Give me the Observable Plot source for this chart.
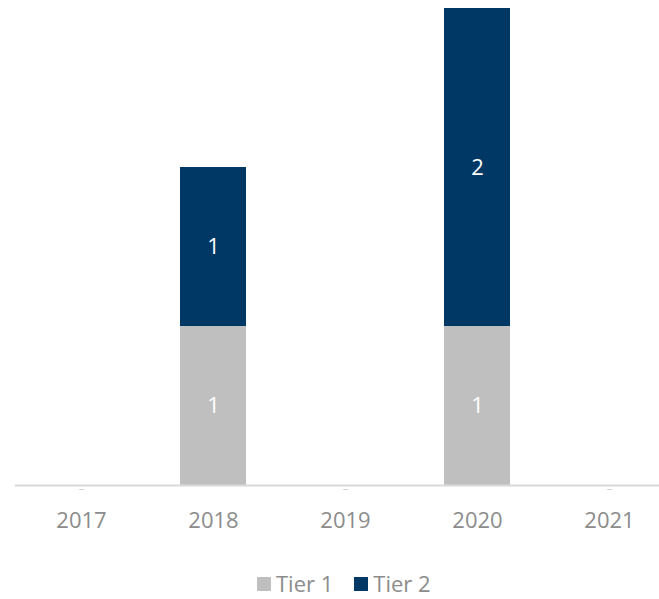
<!DOCTYPE html>
<html>
<head>
<meta charset="utf-8">
<script src="https://cdn.jsdelivr.net/npm/d3@7"></script>
<script src="https://cdn.jsdelivr.net/npm/@observablehq/plot@0.6"></script>
<style>
  html, body { margin: 0; padding: 0; background: #fff; }
  body { width: 659px; height: 599px; overflow: hidden; font-family: "Open Sans", "Noto Sans", sans-serif; position: relative; }
  #legend { position: absolute; top: 568px; left: 257px; display: flex; gap: 21px; font-size: 22px; color: #8c8c8c; line-height: 30px; height: 30px; white-space: nowrap; }
  .item { display: flex; align-items: center; gap: 5px; }
  .sw { width: 14px; height: 14px; display: inline-block; margin-top: 2px; }
</style>
</head>
<body>
<div id="chart"></div>
<div id="legend"></div>
<script>
const years = ["2017", "2018", "2019", "2020", "2021"];
const series = ["Tier 1", "Tier 2"];
const tier1 = [0, 1, 0, 1, 0];
const tier2 = [0, 1, 0, 2, 0];
const colors = ["#bfbfbf", "#003865"];

const data = [];
years.forEach((y, i) => {
  data.push({year: y, tier: series[0], value: tier1[i]});
  data.push({year: y, tier: series[1], value: tier2[i]});
});
const nonzero = data.filter(d => d.value > 0);
const zeros = years.filter((y, i) => tier1[i] + tier2[i] === 0).map(y => ({year: y, value: 0}));

const chart = Plot.plot({
  width: 659,
  height: 550,
  marginTop: 8,
  marginBottom: 65,
  marginLeft: 15,
  marginRight: 0,
  style: {fontFamily: "'Open Sans', 'Noto Sans', sans-serif", background: "#fff"},
  x: {domain: years, range: [14.5, 674.5], paddingInner: 0.5, paddingOuter: 0.25, label: null},
  y: {domain: [0, 3], axis: null},
  color: {domain: series, range: colors},
  marks: [
    Plot.barY(data, {x: "year", y: "value", fill: "tier", order: series}),
    Plot.text(nonzero, Plot.stackY({x: "year", y: "value", z: "tier", order: series, text: d => String(d.value), fill: "white", fontSize: 22})),
    Plot.ruleY([0], {stroke: "#d9d9d9", strokeWidth: 2}),
    Plot.text(zeros, {x: "year", y: "value", text: () => "–", fill: "#cccccc", fontSize: 11, dy: 3}),
    Plot.axisX({tickSize: 0, tickPadding: 27, fontSize: 22, fill: "#8c8c8c", label: null})
  ]
});
document.getElementById("chart").appendChild(chart);

const legend = document.getElementById("legend");
series.forEach((s, i) => {
  const item = document.createElement("div");
  item.className = "item";
  const sw = document.createElement("span");
  sw.className = "sw";
  sw.style.background = colors[i];
  const t = document.createElement("span");
  t.textContent = s;
  item.appendChild(sw);
  item.appendChild(t);
  legend.appendChild(item);
});
</script>
</body>
</html>
